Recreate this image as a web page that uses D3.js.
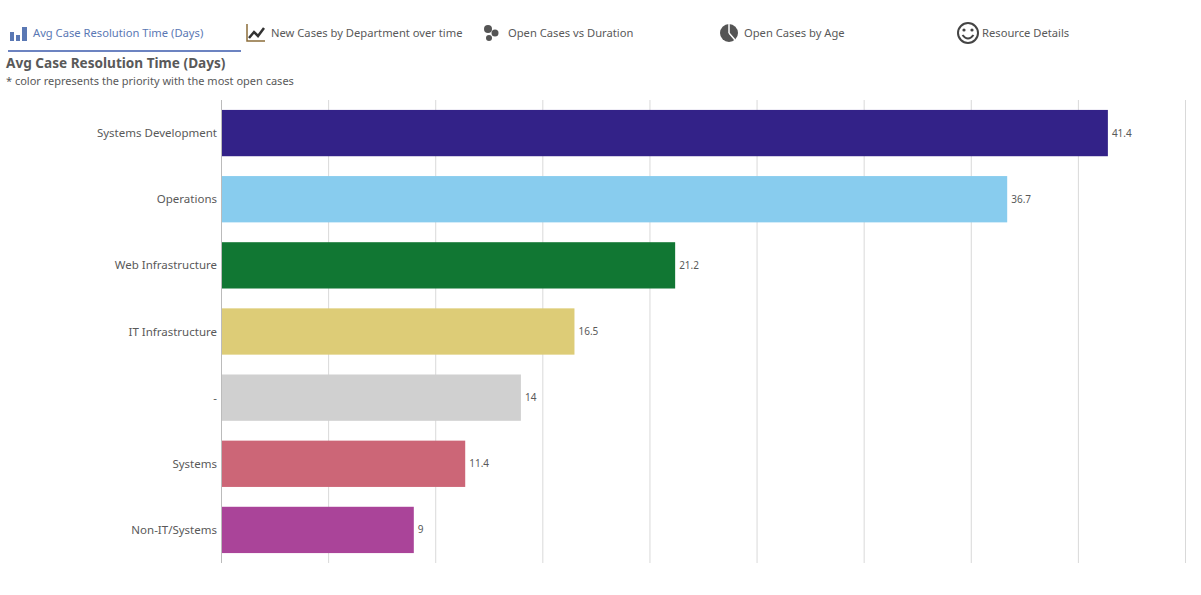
<!DOCTYPE html>
<html lang="en">
<head>
    <meta charset="UTF-8">
    <title>Avg Case Resolution Time (Days)</title>
    <script src="https://d3js.org/d3.v7.min.js"></script>
    <style>
        body { margin: 0; background: #fff; font-family: "Noto Sans", sans-serif; }
        svg text { font-family: "Noto Sans", sans-serif; }
    </style>
</head>
<body>
    <div id="chart"></div>
    <script>
        var w = 1201;
        var h = 595;

        var departments = ["Systems Development", "Operations", "Web Infrastructure", "IT Infrastructure", "-", "Systems", "Non-IT/Systems"];
        var avgDays = [41.4, 36.7, 21.2, 16.5, 14, 11.4, 9];
        var barColors = ["#332288", "#88ccee", "#117733", "#ddcc77", "#d0d0d0", "#cc6677", "#aa4499"];
        var tabs = ["Avg Case Resolution Time (Days)", "New Cases by Department over time", "Open Cases vs Duration", "Open Cases by Age", "Resource Details"];
        var tabX = [8, 246, 483, 719, 957];

        var svg = d3.select("#chart")
                    .append("svg")
                    .attr("width", w)
                    .attr("height", h);

        // tab bar
        var tabG = svg.selectAll("g.tab")
                      .data(tabs)
                      .enter()
                      .append("g")
                      .attr("class", "tab")
                      .attr("transform", function(d, i) { return "translate(" + tabX[i] + ",33)"; });

        tabG.append("text")
            .attr("x", 25)
            .attr("y", 4)
            .attr("font-size", 11.2)
            .attr("fill", function(d, i) { return i == 0 ? "#5a78b4" : "#595959"; })
            .text(function(d) { return d; });

        // icons
        var ic0 = tabG.filter(function(d, i) { return i == 0; });
        [[2, -1, 4, 9], [8, 2, 4, 6], [14, -6, 5, 14]].forEach(function(b) {
            ic0.append("rect").attr("x", b[0]).attr("y", b[1]).attr("width", b[2]).attr("height", b[3]).attr("fill", "#5a78b4");
        });

        var ic1 = tabG.filter(function(d, i) { return i == 1; });
        ic1.append("path").attr("d", "M1,-9 L1,8 L19,8").attr("fill", "none").attr("stroke", "#8c6d3a").attr("stroke-width", 1.5);
        ic1.append("path").attr("d", "M3,5 L8,-1 L12,3 L18,-5").attr("fill", "none").attr("stroke", "#333").attr("stroke-width", 2.5);

        var ic2 = tabG.filter(function(d, i) { return i == 2; });
        [[5, -4, 4], [12, 0, 3.5], [6, 5, 3]].forEach(function(c) {
            ic2.append("circle").attr("cx", c[0]).attr("cy", c[1]).attr("r", c[2]).attr("fill", "#555");
        });

        var ic3 = tabG.filter(function(d, i) { return i == 3; });
        ic3.append("circle").attr("cx", 10).attr("cy", 0).attr("r", 9).attr("fill", "#555");
        ic3.append("path").attr("d", "M10,0 L10,-9 M10,0 L16,7").attr("stroke", "#fff").attr("stroke-width", 1.5).attr("fill", "none");

        var ic4 = tabG.filter(function(d, i) { return i == 4; });
        ic4.append("circle").attr("cx", 11).attr("cy", 0).attr("r", 10).attr("fill", "none").attr("stroke", "#444").attr("stroke-width", 2);
        ic4.append("circle").attr("cx", 7).attr("cy", -3).attr("r", 1.6).attr("fill", "#444");
        ic4.append("circle").attr("cx", 15).attr("cy", -3).attr("r", 1.6).attr("fill", "#444");
        ic4.append("path").attr("d", "M5.5,2 Q11,9 16.5,2").attr("fill", "none").attr("stroke", "#444").attr("stroke-width", 2);

        svg.append("rect")
           .attr("x", 8).attr("y", 50).attr("width", 233).attr("height", 2)
           .attr("fill", "#6c83c1");

        // title
        svg.append("text")
           .attr("x", 6).attr("y", 68)
           .attr("font-size", 13.6).attr("font-weight", "bold")
           .attr("fill", "#595959")
           .text("Avg Case Resolution Time (Days)");

        svg.append("text")
           .attr("x", 6).attr("y", 85)
           .attr("font-size", 11)
           .attr("fill", "#595959")
           .text("* color represents the priority with the most open cases");

        // chart
        var plotLeft = 221, plotRight = 1185, plotTop = 100, plotBottom = 563;

        var xScale = d3.scaleLinear()
                       .domain([0, 45])
                       .range([plotLeft, plotRight]);

        var yScale = d3.scaleBand()
                       .domain(departments)
                       .range([plotTop, plotBottom])
                       .paddingInner(0.3)
                       .paddingOuter(0.15);

        svg.append("g")
           .selectAll("line")
           .data(xScale.ticks(9))
           .enter()
           .append("line")
           .attr("x1", function(d) { return xScale(d) + 0.5; })
           .attr("x2", function(d) { return xScale(d) + 0.5; })
           .attr("y1", plotTop)
           .attr("y2", plotBottom)
           .attr("stroke", function(d) { return d == 0 ? "#bbb" : "#d9d9d9"; })
           .attr("stroke-width", 1);

        svg.selectAll("rect.bar")
           .data(avgDays)
           .enter()
           .append("rect")
           .attr("class", "bar")
           .attr("x", xScale(0) + 1)
           .attr("y", function(d, i) { return yScale(departments[i]); })
           .attr("width", function(d) { return xScale(d) - xScale(0) - 1; })
           .attr("height", yScale.bandwidth())
           .attr("fill", function(d, i) { return barColors[i]; });

        svg.selectAll("text.val")
           .data(avgDays)
           .enter()
           .append("text")
           .attr("class", "val")
           .attr("x", function(d) { return xScale(d) + 4; })
           .attr("y", function(d, i) { return yScale(departments[i]) + yScale.bandwidth() / 2; })
           .attr("dy", "0.35em")
           .attr("font-size", 10)
           .attr("fill", "#595959")
           .text(function(d) { return d; });

        svg.selectAll("text.cat")
           .data(departments)
           .enter()
           .append("text")
           .attr("class", "cat")
           .attr("x", plotLeft - 4)
           .attr("y", function(d) { return yScale(d) + yScale.bandwidth() / 2; })
           .attr("dy", "0.35em")
           .attr("text-anchor", "end")
           .attr("font-size", 11.5)
           .attr("fill", "#595959")
           .text(function(d) { return d; });
    </script>
</body>
</html>
